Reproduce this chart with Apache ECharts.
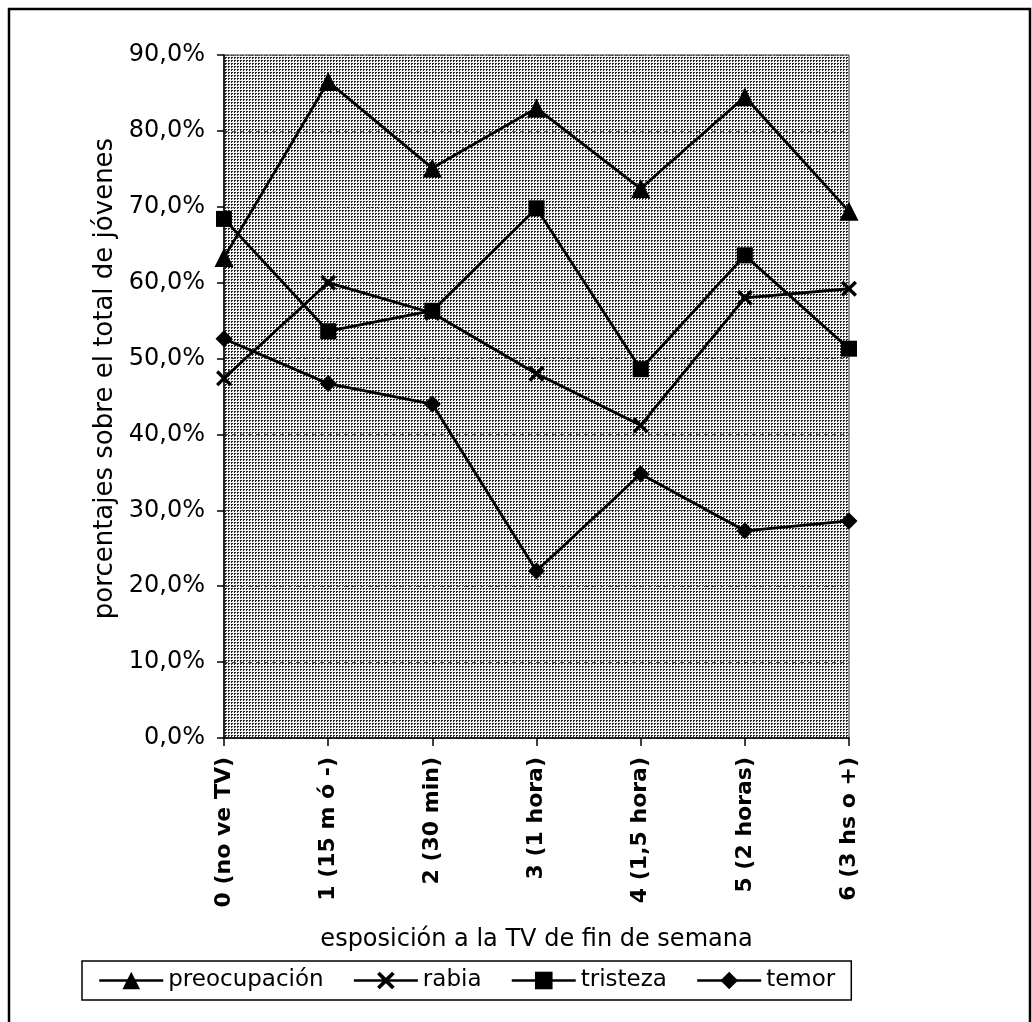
<!DOCTYPE html>
<html>
<head>
<meta charset="utf-8">
<script src="https://cdn.jsdelivr.net/npm/echarts@6/dist/echarts.min.js"></script>
<style>
html,body{margin:0;padding:0;background:#fff;}
#chart{width:1032px;height:1022px;}
</style>
</head>
<body>
<div id="chart"></div>
<script>
const categories = ['0 (no ve TV)', '1 (15 m ó -)', '2 (30 min)', '3 (1 hora)', '4 (1,5 hora)', '5 (2 horas)', '6 (3 hs o +)'];
const preocupacion = [63.3, 86.5, 75.1, 83.0, 72.4, 84.5, 69.4];
const rabia = [47.4, 60.0, 56.0, 48.0, 41.2, 58.0, 59.2];
const tristeza = [68.4, 53.6, 56.3, 69.8, 48.6, 63.6, 51.3];
const temor = [52.6, 46.7, 44.0, 22.0, 34.8, 27.3, 28.6];
const yTicks = [0, 10, 20, 30, 40, 50, 60, 70, 80, 90];

// stipple pattern for plot background
const pc = document.createElement('canvas');
pc.width = 3; pc.height = 3;
const pctx = pc.getContext('2d');
pctx.fillStyle = '#f4f4f4';
pctx.fillRect(0, 0, 3, 3);
pctx.fillStyle = '#222222';
pctx.fillRect(0, 0, 2, 1);
pctx.fillRect(0, 1, 1, 1);

const FONT = '"DejaVu Sans", Verdana, sans-serif';
const X_SYMBOL = 'path://M0,1.5L1.5,0L5,3.5L8.5,0L10,1.5L6.5,5L10,8.5L8.5,10L5,6.5L1.5,10L0,8.5L3.5,5Z';

function mk(name, data, symbol, size) {
  return {
    name: name, type: 'line', data: data,
    symbol: symbol, symbolSize: size,
    showSymbol: true,
    lineStyle: {color: '#000', width: 2.8},
    itemStyle: {color: '#000'},
    emphasis: {disabled: true},
    animation: false
  };
}

const chart = echarts.init(document.getElementById('chart'), null, {renderer: 'canvas'});
chart.setOption({
  animation: false,
  backgroundColor: '#fff',
  graphic: [{
    type: 'rect',
    shape: {x: 9, y: 9, width: 1021, height: 1040},
    style: {fill: 'none', stroke: '#000', lineWidth: 2.5},
    silent: true
  }],
  grid: {
    left: 224, right: 183, top: 55, bottom: 284,
    show: true,
    backgroundColor: {image: pc, repeat: 'repeat'},
    borderColor: '#333', borderWidth: 1
  },
  legend: {
    left: 82, top: 961,
    data: ['preocupación', 'rabia', 'tristeza', 'temor'],
    borderColor: '#000', borderWidth: 1.5,
    padding: [8, 16],
    itemGap: 29, itemWidth: 64, itemHeight: 22,
    lineStyle: {color: '#000', width: 2.5},
    textStyle: {fontFamily: FONT, fontSize: 23, color: '#000'},
    selectedMode: false
  },
  xAxis: {
    type: 'category',
    data: categories,
    boundaryGap: false,
    name: 'esposición a la TV de fin de semana',
    nameLocation: 'middle',
    nameGap: 190,
    nameTextStyle: {fontFamily: FONT, fontSize: 24, color: '#000'},
    axisLine: {lineStyle: {color: '#000', width: 1.5}},
    axisTick: {show: true, length: 8, interval: 0, lineStyle: {color: '#000', width: 1.5}},
    axisLabel: {
      rotate: 90, interval: 0, margin: 19,
      fontFamily: FONT, fontWeight: 'bold', fontSize: 22, color: '#000'
    },
    splitLine: {show: false}
  },
  yAxis: {
    type: 'value',
    min: yTicks[0], max: yTicks[yTicks.length - 1], interval: 10,
    name: 'porcentajes sobre el total de jóvenes',
    nameLocation: 'middle',
    nameGap: 106,
    nameRotate: 90,
    nameTextStyle: {fontFamily: FONT, fontSize: 26, color: '#000', padding: [0, 0, 0, 36]},
    axisLine: {show: true, lineStyle: {color: '#000', width: 1.5}},
    axisTick: {show: true, length: 7, lineStyle: {color: '#000', width: 1.5}},
    axisLabel: {
      margin: 19,
      fontFamily: FONT, fontSize: 24, color: '#000',
      formatter: v => v.toFixed(1).replace('.', ',') + '%'
    },
    splitLine: {show: true, lineStyle: {color: '#555', type: [4, 4], width: 1}}
  },
  series: [
    mk('preocupación', preocupacion, 'triangle', 19),
    mk('rabia', rabia, X_SYMBOL, 16),
    mk('tristeza', tristeza, 'rect', 16),
    mk('temor', temor, 'diamond', 17)
  ]
});
</script>
</body>
</html>
